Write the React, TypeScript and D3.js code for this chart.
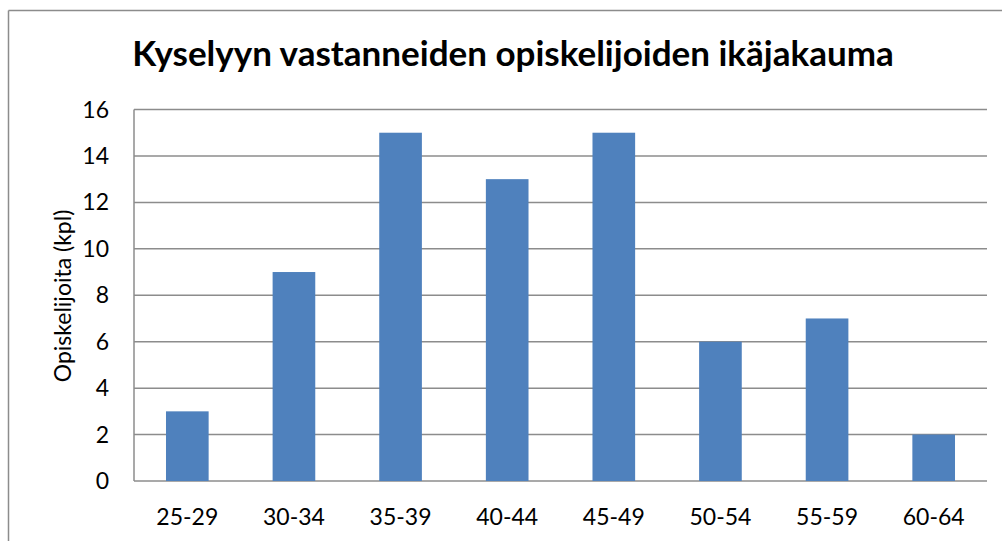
import React from "react";
import * as d3 from "d3";

const ageGroups = ["25-29", "30-34", "35-39", "40-44", "45-49", "50-54", "55-59", "60-64"];
const studentCounts = [3, 9, 15, 13, 15, 6, 7, 2];
const yTicks = [0, 2, 4, 6, 8, 10, 12, 14, 16];

const chartTitle = "Kyselyyn vastanneiden opiskelijoiden ikäjakauma";
const yTitle = "Opiskelijoita (kpl)";

const W = 1002;
const H = 541;
const margin = { top: 109.5, right: 15, bottom: 60, left: 134 };
const font = "Lato, 'Open Sans', sans-serif";

const App = () => {
  const x = d3
    .scaleBand()
    .domain(ageGroups)
    .range([margin.left, W - margin.right])
    .paddingInner(0.6)
    .paddingOuter(0.3);
  const y = d3.scaleLinear().domain([0, 16]).range([481, margin.top]);

  return (
    <div style={{ position: "absolute", left: 0, top: 0 }}>
      <svg width={W} height={H} style={{ display: "block", background: "#fff" }}>
        {/* chart frame, cut off at right and bottom */}
        <line x1={8.5} y1={10.5} x2={W} y2={10.5} stroke="#8c8c8c" strokeWidth={1.5} />
        <line x1={8.5} y1={10.5} x2={8.5} y2={H} stroke="#8c8c8c" strokeWidth={1.5} />

        <text
          x={513}
          y={66}
          textAnchor="middle"
          fontFamily={font}
          fontWeight="bold"
          fontSize={35}
          fill="#000"
        >
          {chartTitle}
        </text>

        {/* gridlines */}
        {yTicks.map((t) => (
          <line
            key={"g" + t}
            x1={margin.left}
            x2={W - margin.right}
            y1={y(t)}
            y2={y(t)}
            stroke="#8c8c8c"
            strokeWidth={1.5}
          />
        ))}
        <line x1={margin.left} x2={margin.left} y1={y(16)} y2={y(0)} stroke="#8c8c8c" strokeWidth={1.5} />

        {yTicks.map((t) => (
          <text
            key={"t" + t}
            x={109}
            y={y(t)}
            dy="0.35em"
            textAnchor="end"
            fontFamily={font}
            fontSize={23}
            fill="#000"
          >
            {t}
          </text>
        ))}

        {ageGroups.map((g, i) => (
          <rect
            key={g}
            x={x(g)}
            y={y(studentCounts[i])}
            width={x.bandwidth()}
            height={y(0) - y(studentCounts[i])}
            fill="#4F81BD"
          />
        ))}

        {ageGroups.map((g) => (
          <text
            key={"x" + g}
            x={(x(g) as number) + x.bandwidth() / 2}
            y={525}
            textAnchor="middle"
            fontFamily={font}
            fontSize={23}
            fill="#000"
          >
            {g}
          </text>
        ))}

        <text
          transform={`translate(71,296) rotate(-90)`}
          textAnchor="middle"
          fontFamily={font}
          fontSize={23}
          fill="#000"
        >
          {yTitle}
        </text>
      </svg>
    </div>
  );
};

export default App;
